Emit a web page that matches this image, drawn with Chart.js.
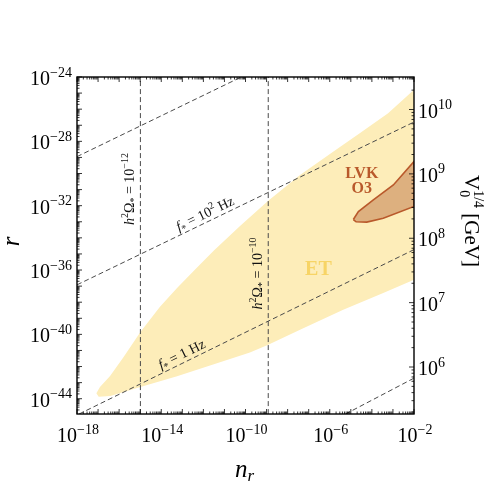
<!DOCTYPE html>
<html>
<head>
<meta charset="utf-8">
<script src="https://cdn.jsdelivr.net/npm/chart.js@4.4.0/dist/chart.umd.min.js"></script>
<style>
  html, body { margin: 0; padding: 0; background: #fff; }
</style>
</head>
<body>
<canvas id="gwChart" width="491" height="491"></canvas>
<script>
// everything below is log10 of the plotted quantity
const xRange = [-18, -2];          // n_r
const yRange = [-44.95, -24];      // r
const vRange = [5.27, 10.505];     // V0^(1/4) [GeV], right axis

const xTickExp = [-18, -14, -10, -6, -2];
const yTickExp = [-24, -28, -32, -36, -40, -44];
const vTickExp = [10, 9, 8, 7, 6];

// ET sensitivity region (closed outline)
const etLogN = [-17.08, -16.91, -16.43, -15.77, -14.99, -14.06, -13.25, -12.30, -11.50, -10.26, -8.92, -7.41, -5.84, -4.56, -3.23, -2.0,
                -2.0, -3.46, -5.36, -7.41, -8.92, -9.79, -13.25, -14.99, -16.42, -16.97, -17.08];
const etLogR = [-43.66, -43.27, -42.58, -41.37, -39.85, -38.29, -37.11, -35.84, -34.78, -33.26, -31.69, -30.09, -28.64, -27.48, -26.26, -24.8,
                -36.6, -37.43, -38.47, -39.71, -40.65, -41.12, -42.61, -43.27, -43.83, -43.87, -43.66];

// LVK O3 exclusion region (closed outline)
const lvkLogN = [-4.88, -4.64, -3.93, -2.98, -2.0, -2.0, -3.46, -4.24, -4.75, -4.88];
const lvkLogR = [-32.86, -32.37, -31.64, -30.71, -29.25, -32.05, -32.78, -33.02, -33.0, -32.86];

// constant peak frequency lines f_*
const f4LogN = [-18, -10.2];   const f4LogR = [-28.95, -24.0];
const f2LogN = [-18, -2];      const f2LogR = [-36.92, -26.8];
const f0LogN = [-17.9, -2];    const f0LogR = [-44.95, -34.73];
const fm2LogN = [-5.25, -2];   const fm2LogR = [-44.95, -42.72];

// constant h^2 Omega_* lines (1e-12, 1e-10)
const omegaLogN = [-14.99, -8.92];
const omegaExp = ['−12', '−10'];

const pts = (ns, rs) => ns.map((n, i) => ({x: 10 ** n, y: 10 ** rs[i]}));

const FAM = '"Liberation Serif", "DejaVu Serif", serif';

// draw a run of text pieces: [text, size, rise, style, advance]
function rich(ctx, parts, x, y, angle, align) {
  ctx.save();
  ctx.translate(x, y);
  ctx.rotate(angle || 0);
  ctx.textBaseline = 'alphabetic';
  ctx.textAlign = 'left';
  const fnt = p => (p[3] || '') + ' ' + p[1] + 'px ' + FAM;
  let w = 0;
  parts.forEach(p => { ctx.font = fnt(p); if (p[4] !== false) w += ctx.measureText(p[0]).width; });
  let cx = align === 'center' ? -w / 2 : align === 'right' ? -w : 0;
  parts.forEach(p => {
    ctx.font = fnt(p);
    ctx.fillText(p[0], cx, -p[2]);
    if (p[4] !== false) cx += ctx.measureText(p[0]).width;
  });
  ctx.restore();
}

const pow10 = e => [['10', 20, 0], [String(e).replace('-', '−'), 14, 8.5]];

const decorations = {
  id: 'decorations',
  afterDatasetsDraw(chart) {
    const {ctx, chartArea: a, scales} = chart;
    const sx = scales.x, sy = scales.y, sv = scales.v;
    ctx.save();
    ctx.strokeStyle = '#000';
    ctx.lineWidth = 0.8;

    // inward tick marks
    const ticks = (lo, hi, cb) => {
      for (let k = Math.floor(lo); k <= Math.ceil(hi); k++) {
        for (let m = 1; m <= 9; m++) {
          const l = k + Math.log10(m);
          if (l < lo - 1e-6 || l > hi + 1e-6) continue;
          cb(10 ** l, m === 1 ? 5 : 2.5);
        }
      }
    };
    ctx.beginPath();
    ticks(xRange[0], xRange[1], (v, len) => {
      const p = sx.getPixelForValue(v);
      ctx.moveTo(p, a.bottom); ctx.lineTo(p, a.bottom - len);
      ctx.moveTo(p, a.top); ctx.lineTo(p, a.top + len);
    });
    ticks(yRange[0], yRange[1], (v, len) => {
      const p = sy.getPixelForValue(v);
      ctx.moveTo(a.left, p); ctx.lineTo(a.left + len, p);
    });
    ticks(vRange[0], vRange[1], (v, len) => {
      const p = sv.getPixelForValue(v);
      ctx.moveTo(a.right, p); ctx.lineTo(a.right - len, p);
    });
    ctx.stroke();

    // frame
    ctx.lineWidth = 1.4;
    ctx.strokeRect(a.left, a.top, a.right - a.left, a.bottom - a.top);

    // tick labels
    ctx.fillStyle = '#000';
    xTickExp.forEach(e => rich(ctx, pow10(e), sx.getPixelForValue(10 ** e) + 1, a.bottom + 28, 0, 'center'));
    yTickExp.forEach(e => rich(ctx, pow10(e), a.left - 5, sy.getPixelForValue(10 ** e) + 8, 0, 'right'));
    vTickExp.forEach(e => rich(ctx, pow10(e), a.right + 4, sv.getPixelForValue(10 ** e) + 8, 0, 'left'));

    // axis titles
    rich(ctx, [['n', 25, 0, 'italic'], ['r', 17, -4, 'italic']], (a.left + a.right) / 2 - 1, a.bottom + 63, 0, 'center');
    rich(ctx, [['r', 25, 0, 'italic']], 19, (a.top + a.bottom) / 2 - 4, -Math.PI / 2, 'center');
    rich(ctx, [['V', 21, 0], ['0', 14, -5, '', false], ['1/4', 14, 9], [' [GeV]', 21, 0]],
      465, 221, Math.PI / 2, 'center');

    // line annotations
    ctx.fillStyle = '#111';
    const omegaY = [-30.96, -36.21];
    omegaLogN.forEach((n, i) => {
      const px = sx.getPixelForValue(10 ** n) - 10;
      const py = sy.getPixelForValue(10 ** omegaY[i]);
      rich(ctx, [['h', 14, 0, 'italic'], ['2', 10, 6], ['Ω', 14, 0], ['*', 10, -3], [' = 10', 14, 0], [omegaExp[i], 10, 6]],
        px + 4, py, -Math.PI / 2, 'center');
    });
    const slantLabel = (ns, rs, at, parts) => {
      const p1 = {x: sx.getPixelForValue(10 ** ns[0]), y: sy.getPixelForValue(10 ** rs[0])};
      const p2 = {x: sx.getPixelForValue(10 ** ns[1]), y: sy.getPixelForValue(10 ** rs[1])};
      const ang = Math.atan2(p2.y - p1.y, p2.x - p1.x);
      const t = (at - ns[0]) / (ns[1] - ns[0]);
      const bx = p1.x + t * (p2.x - p1.x), by = p1.y + t * (p2.y - p1.y);
      rich(ctx, parts, bx + 4 * Math.sin(ang), by - 4 * Math.cos(ang), ang, 'center');
    };
    slantLabel(f2LogN, f2LogR, -11.75, [['f', 14, 0, 'italic'], ['*', 10, -3], [' = 10', 14, 0], ['2', 10, 6], [' Hz', 14, 0]]);
    slantLabel(f0LogN, f0LogR, -12.85, [['f', 14, 0, 'italic'], ['*', 10, -3], [' = 1 Hz', 14, 0]]);

    // region labels
    ctx.fillStyle = '#f7d466';
    rich(ctx, [['ET', 20, 0, 'bold']], sx.getPixelForValue(10 ** -6.54), sy.getPixelForValue(10 ** -35.89) + 7, 0, 'center');
    ctx.fillStyle = '#b9592b';
    const lx = sx.getPixelForValue(10 ** -4.48);
    rich(ctx, [['LVK', 16, 0, 'bold']], lx, sy.getPixelForValue(10 ** -29.89) + 6, 0, 'center');
    rich(ctx, [['O3', 16, 0, 'bold']], lx, sy.getPixelForValue(10 ** -30.86) + 6, 0, 'center');
    ctx.restore();
  }
};

const dashed = (ns, rs) => ({
  data: pts(ns, rs), showLine: true, fill: false, pointRadius: 0,
  borderColor: '#4a4a4a', borderWidth: 1, borderDash: [5, 3], order: 2
});

const ctx = document.getElementById('gwChart').getContext('2d');
new Chart(ctx, {
  type: 'scatter',
  data: {
    datasets: [
      { label: 'LVK O3', data: pts(lvkLogN, lvkLogR), showLine: true, fill: 'shape', pointRadius: 0,
        backgroundColor: '#ddb07f', borderColor: '#b9592b', borderWidth: 1.6, order: 1 },
      dashed(f4LogN, f4LogR),
      dashed(f2LogN, f2LogR),
      dashed(f0LogN, f0LogR),
      dashed(fm2LogN, fm2LogR),
      dashed([omegaLogN[0], omegaLogN[0]], [yRange[0] - 1, yRange[1] + 1]),
      dashed([omegaLogN[1], omegaLogN[1]], [yRange[0] - 1, yRange[1] + 1]),
      { label: 'ET', data: pts(etLogN, etLogR), showLine: true, fill: 'shape', pointRadius: 0,
        backgroundColor: '#fdedb9', borderColor: 'transparent', borderWidth: 0, order: 3 }
    ]
  },
  options: {
    responsive: false,
    animation: false,
    layout: { padding: { top: 77, left: 0, right: 0, bottom: 0 } },
    plugins: { legend: { display: false }, tooltip: { enabled: false } },
    scales: {
      x: { type: 'logarithmic', position: 'bottom', min: 10 ** xRange[0], max: 10 ** xRange[1],
           grid: { display: false }, border: { display: false }, ticks: { display: false },
           afterFit: s => { s.height = 77; } },
      y: { type: 'logarithmic', position: 'left', min: 10 ** yRange[0], max: 10 ** yRange[1],
           grid: { display: false }, border: { display: false }, ticks: { display: false },
           afterFit: s => { s.width = 77; } },
      v: { type: 'logarithmic', position: 'right', min: 10 ** vRange[0], max: 10 ** vRange[1],
           grid: { display: false }, border: { display: false }, ticks: { display: false },
           afterFit: s => { s.width = 77; } }
    }
  },
  plugins: [decorations]
});
</script>
</body>
</html>
